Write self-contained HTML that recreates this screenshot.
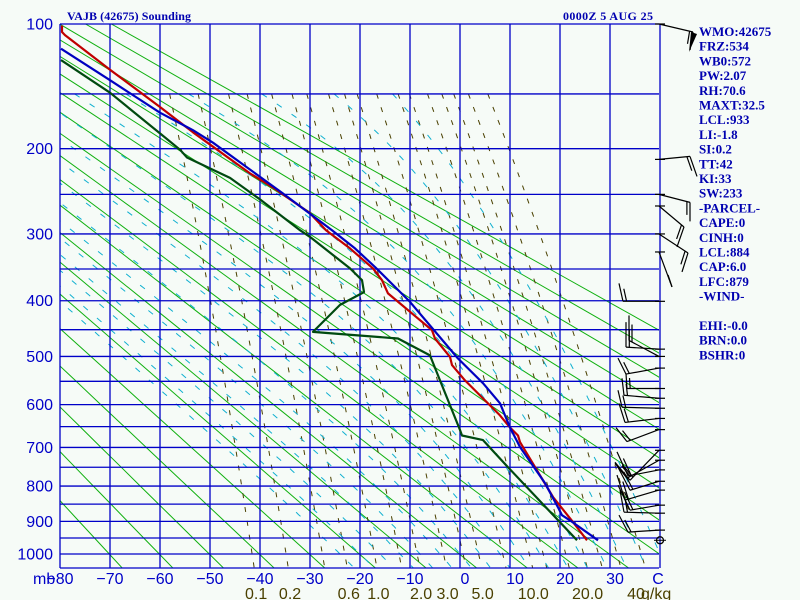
<!DOCTYPE html>
<html><head><meta charset="utf-8"><style>
html,body{margin:0;padding:0;background:#f6fbf7;}
svg{display:block;}
.ax{font-family:"Liberation Sans",sans-serif;font-size:16px;fill:#0000c8;}
.mr{font-family:"Liberation Sans",sans-serif;font-size:16px;fill:#4a4000;}
.tt{font-family:"Liberation Serif",serif;font-weight:bold;font-size:12px;fill:#0000b0;}
.pn{font-family:"Liberation Serif",serif;font-weight:bold;font-size:13px;fill:#0000b0;}
</style></head><body>
<svg id="chart" width="800" height="600" xmlns="http://www.w3.org/2000/svg">
<rect x="0" y="0" width="800" height="600" fill="#f6fbf7"/>
<defs><clipPath id="pc"><rect x="60" y="24" width="599" height="544"/></clipPath></defs>
<g id="bg" clip-path="url(#pc)"></g>
<g id="grid"></g>
<g id="prof" clip-path="url(#pc)"></g>
<g id="wind"></g>
<g id="labels"></g>
<text class="tt" x="67" y="20" textLength="124">VAJB (42675) Sounding</text>
<text class="tt" x="563" y="20" textLength="90">0000Z  5 AUG 25</text>
<g id="panel"></g>
</svg>
<script>
const tempP=[101,105,107,131,161,184,198,226,242,273,295,320,349,367,388,451,466,501,517,548,624,652,671,687,830,902,957];
const tempT=[-79.6,-79.6,-79,-70,-60,-53.4,-49.4,-42,-37.4,-30,-26.8,-22,-17.4,-15.6,-14.4,-5.6,-5,-2,-1.6,1,8,10,11.6,12,18.6,22.6,25.4];
const dewP=[124,149,185,201,209,231,256,295,304,349,367,386,407,454,456,466,498,548,658,671,682,750,957];
const dewT=[-79.8,-70,-60,-56,-54.6,-46,-40,-32,-30,-22,-19.6,-19.2,-24,-29.4,-26.6,-12.4,-6,-4,0,0.4,4.6,9.6,23.4];
const parcP=[116,139,166,182,194,249,295,320,347,402,504,554,597,652,699,792,859,882,897,957];
const parcT=[-79.8,-70,-60,-53.4,-49.4,-35.4,-25.6,-21,-17,-10,-0.4,4.6,8,10,12,17,19.6,20.4,22,27.6];
const presTicks=[100,200,300,400,500,600,700,800,900,1000];
const tempTicks=[-80,-70,-60,-50,-40,-30,-20,-10,0,10,20,30];
const mixLabels=["0.1","0.2","0.6","1.0","2.0","3.0","5.0","10.0","20.0","40"];
const mixValues=[0.1,0.2,0.6,1.0,2.0,3.0,5.0,10.0,20.0,40];
const mixLines=[0.1,0.2,0.4,0.6,1,1.5,2,3,4,5,7,10,12,16,20,24,30,40];
const thetaK=[203,213,223,233,243,253,263,273,283,293,303,313,323,333,343,353,363,373,383,393];
const thetaW=[-24,-20,-16,-12,-8,-4,0,4,8,12,16,20,24,28,32,36,40];
const windP=[100,211,250,264,300,325,401,486,500,523,565,586,608,631,657,707,732,757,787,811,853,876,926];
const windEnd=[[34,8],[31,-3],[31,8],[25,21],[29,19],[13,35],[-36,0],[-33,-2],[-30,-16],[-33,6],[-32,0],[-35,-3],[-37,-1],[-34,4],[-32,12],[-29,30],[-32,18],[-31,6],[-29,9],[-34,10],[-29,5],[-35,-1],[-31,2]];
const windTip=[[-3,18],[7,20],[0,19],[-7,20],[-6,19],[-4,-12],[-4,-18],[0,-25],[0,-25],[-8,-16],[-1,-15],[-2,-17],[-4,-17],[-6,-19],[-11,-14],[-15,-18],[-12,-15],[-11,-24],[-13,-25],[-8,-25],[-12,-25],[-4,-22],[-9,-17]];
const panelText=["WMO:42675","FRZ:534","WB0:572","PW:2.07","RH:70.6","MAXT:32.5","LCL:933","LI:-1.8","SI:0.2","TT:42","KI:33","SW:233","-PARCEL-","CAPE:0","CINH:0","LCL:884","CAP:6.0","LFC:879","-WIND-","","EHI:-0.0","BRN:0.0","BSHR:0"];

const K=0.286,NS="http://www.w3.org/2000/svg";
const P0=Math.pow(100,K),P1=Math.pow(1000,K);
function yOf(p){return 24+530*(Math.pow(p,K)-P0)/(P1-P0);}
function xOf(t){return 460+5*t;}
function mk(tag,attrs,parent){const e=document.createElementNS(NS,tag);for(const k in attrs)e.setAttribute(k,attrs[k]);parent.appendChild(e);return e;}
const bg=document.getElementById('bg'),grid=document.getElementById('grid'),prof=document.getElementById('prof'),wind=document.getElementById('wind'),labels=document.getElementById('labels'),panel=document.getElementById('panel');

function pl(pts){return pts.map(q=>q[0].toFixed(1)+','+q[1].toFixed(1)).join(' ');}
thetaK.forEach(th=>{const pts=[];for(let p=100;p<=1050;p+=50){pts.push([xOf(th*Math.pow(p/1000,K)-273.15),yOf(p)]);}
 const e=mk('polyline',{points:pl(pts),fill:'none',stroke:'#10b010','stroke-width':1},bg);
 
 });
function es(t){return 6.112*Math.exp(17.67*t/(t+243.5));}
mixLines.forEach(w=>{const pts=[];for(let p=150;p<=1050;p+=25){const e=w*p/(622+w);const L=Math.log(e/6.112);const t=243.5*L/(17.67-L);pts.push([xOf(t),yOf(p)]);}
 const e=mk('polyline',{points:pl(pts),fill:'none',stroke:'#4a4000','stroke-width':1,'stroke-dasharray':'5,9'},bg);
 
 });
function dTdp(T,p){const e=es(T-273.15);const rs=0.622*e/(p-e);return (287*T+2.5e6*rs)/p/(1005+2.5e6*2.5e6*rs*0.622/(287*T*T));}
thetaW.forEach(tw=>{let T=tw+273.15,p=1000;const up=[[xOf(tw),yOf(1000)]];
 while(p>150){const dp=-5;T+=dTdp(T,p)*dp;p+=dp;up.push([xOf(T-273.15),yOf(p)]);}
 T=tw+273.15;p=1000;const dn=[];while(p<1050){const dp=5;T+=dTdp(T,p)*dp;p+=dp;dn.push([xOf(T-273.15),yOf(p)]);}
 const pts=up.reverse().concat(dn);
 const e=mk('polyline',{points:pl(pts),fill:'none',stroke:'#10b0d0','stroke-width':1,'stroke-dasharray':'6,12'},bg);
 
 });
for(let t=-80;t<=40;t+=10){const e=mk('line',{x1:xOf(t),y1:24,x2:xOf(t),y2:568,stroke:'#0000c8','stroke-width':1.3},grid);
 
 }
for(let p=100;p<=1000;p+=50){const y=yOf(p);const e=mk('line',{x1:60,y1:y,x2:659,y2:y,stroke:'#0000c8','stroke-width':1.3},grid);
 
 }
const bl=mk('line',{x1:60,y1:568,x2:659,y2:568,stroke:'#0000c8','stroke-width':1.3},grid);


function prof1(P,T,col,w,name){const pts=P.map((p,i)=>[xOf(T[i]),yOf(p)]);
 const e=mk('polyline',{points:pl(pts),fill:'none',stroke:col,'stroke-width':w,'stroke-linejoin':'round'},prof);
 
 }
prof1(dewP,dewT,'#004a10',2.2,'dewpoint-line');
prof1(tempP,tempT,'#c00000',2.2,'temperature-line');
prof1(parcP,parcT,'#0000c0',2.2,'parcel-line');
presTicks.forEach(p=>{const e=mk('text',{class:'ax',x:53,y:yOf(p)+5.5,'text-anchor':'end'},labels);e.textContent=String(p);
 
 });
tempTicks.forEach(t=>{const s=t<0?'\u2212'+(-t):String(t);const cx=t<0?xOf(t):xOf(t)+5;
 const e=mk('text',{class:'ax',x:cx,y:584,'text-anchor':'middle'},labels);e.textContent=s;
 
 });
const mb=mk('text',{class:'ax',x:33,y:584},labels);mb.textContent='mb';


const cu=mk('text',{class:'ax',x:658,y:584,'text-anchor':'middle'},labels);cu.textContent='C';


mixValues.forEach((w,i)=>{const e0=w*1000/(622+w);const L=Math.log(e0/6.112);const t=243.5*L/(17.67-L);
 const e=mk('text',{class:'mr',x:Math.min(xOf(t)+4,636),y:599,'text-anchor':'middle'},labels);e.textContent=mixLabels[i];
 
 });
const gk=mk('text',{class:'mr',x:641,y:599},labels);gk.textContent='g/kg';


windP.forEach((p,i)=>{const y=yOf(p);const ex=659+windEnd[i][0],ey=y+windEnd[i][1];
 const g=mk('g',{stroke:'#000','stroke-width':1.2,fill:'none'},wind);
 
 
 mk('line',{x1:655,y1:y,x2:665,y2:y},g);
 mk('line',{x1:659,y1:y,x2:ex,y2:ey},g);
 mk('line',{x1:ex,y1:ey,x2:ex+windTip[i][0],y2:ey+windTip[i][1]},g);
 mk('line',{x1:ex+(659-ex)*0.1,y1:ey+(y-ey)*0.1,x2:ex+(659-ex)*0.1+windTip[i][0]*0.7,y2:ey+(y-ey)*0.1+windTip[i][1]*0.7},g);});
const fl=mk('polygon',{points:'691,32 697,34 689,52',fill:'#000'},wind);


const sc=mk('circle',{cx:660,cy:yOf(957),r:3.5,fill:'none',stroke:'#000','stroke-width':1.3},wind);


mk('line',{x1:654,y1:yOf(957),x2:666,y2:yOf(957),stroke:'#000'},wind);
panelText.forEach((s,i)=>{if(!s)return;const e=mk('text',{class:'pn',x:699,y:36+i*14.7},panel);e.textContent=s;
 
 });
</script>
</body></html>
